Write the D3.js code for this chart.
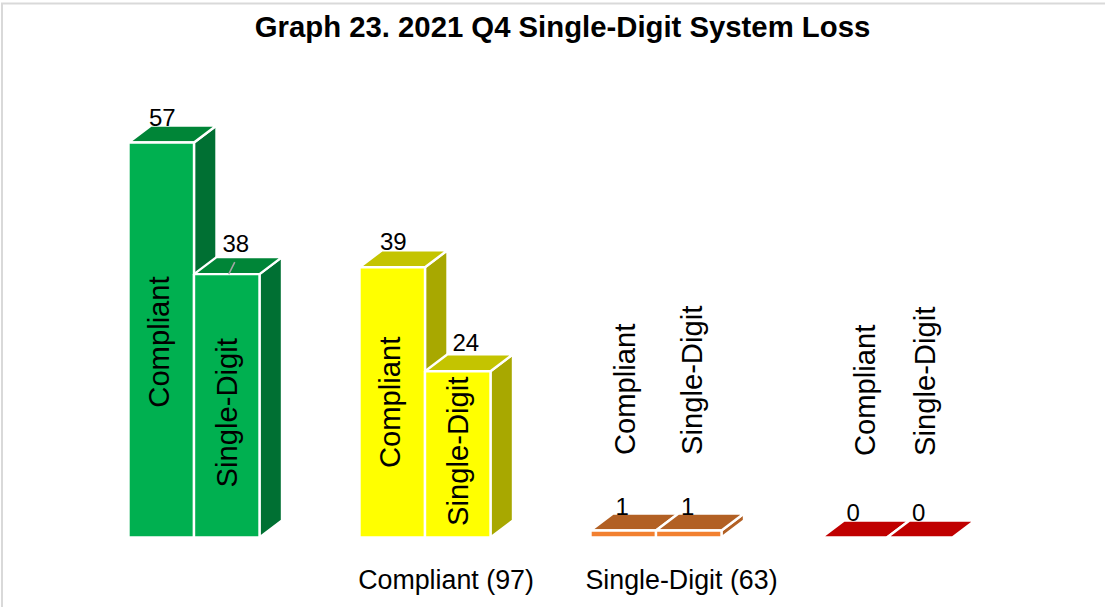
<!DOCTYPE html>
<html><head><meta charset="utf-8">
<script src="https://cdn.jsdelivr.net/npm/d3@7/dist/d3.min.js"></script>
<style>html,body{margin:0;padding:0;background:#fff}svg{display:block}text{font-family:"Liberation Sans",Arial,sans-serif;fill:#000}</style>
</head><body><svg id="c" width="1105" height="607"></svg>
<script>
const title = "Graph 23. 2021 Q4 Single-Digit System Loss";
const groups = ["A", "Compliant (97)", "Single-Digit (63)", "D"];
const groupLabels = ["", "Compliant (97)", "Single-Digit (63)", ""];
const seriesNames = ["Compliant", "Single-Digit"];
const compliant = [57, 39, 1, 0];
const singleDigit = [38, 24, 1, 0];
const frontColors = ["#00B050", "#FFFF00", "#F28030", "#C00000"];
const topColors = ["#008537", "#C4C400", "#B26024", "#C00000"];
const sideColors = ["#007033", "#A8A800", "#B26024", "#C00000"];

// layout tweaks for text placement, [group][series]
const valueDx = [[1, 9], [1, 8], [-1, -1], [-1, -1]];
const valueDy = [[-17, -22], [-17, -20], [-16, -16], [-17, -17]];
const nameDx = [[-2, 0], [-2, 0], [2, 3], [11, 5]];
const nameDy = [[2, 7], [0, -3], [1, 1], [2, 2]];
const groupLabelDx = [0, -1.5, 3, 0];

const svg = d3.select("#c");
const depthX = 22.5, depthY = 17;
const y = d3.scaleLinear().domain([0, 57]).range([537.5, 142.5]);
const x0 = d3.scaleBand().domain(groups).range([128.5, 952.5]).paddingInner(100 / 231);
const x1 = d3.scaleBand().domain(seriesNames).range([0, x0.bandwidth()]);

svg.append("path").attr("d", "M2,607V3.5H1105").attr("fill", "none").attr("stroke", "#d9d9d9").attr("stroke-width", 2);
svg.append("text").attr("x", 562.5).attr("y", 37).attr("text-anchor", "middle")
  .attr("font-size", 29.3).attr("font-weight", "bold").text(title);

const rows = groups.flatMap((g, i) => [
  { g, i, s: 0, name: seriesNames[0], v: compliant[i] },
  { g, i, s: 1, name: seriesNames[1], v: singleDigit[i] }
]);

const bars = svg.append("g").selectAll("g").data(rows).join("g")
  .attr("stroke", "#fff").attr("stroke-width", 2.4).attr("stroke-linejoin", "round");
const left = d => x0(d.g) + x1(d.name);
const right = d => left(d) + x1.bandwidth();
bars.filter(d => d.v > 0).append("path").attr("fill", d => sideColors[d.i])
  .attr("d", d => `M${right(d)},${y(d.v)}l${depthX},${-depthY}V${y(0) - depthY}L${right(d)},${y(0)}Z`);
bars.append("path").attr("fill", d => topColors[d.i])
  .attr("d", d => `M${left(d)},${y(d.v)}l${depthX},${-depthY}H${right(d) + depthX}L${right(d)},${y(d.v)}Z`);
bars.filter(d => d.v > 0).append("rect").attr("fill", d => frontColors[d.i])
  .attr("x", left).attr("y", d => y(d.v)).attr("width", x1.bandwidth()).attr("height", d => y(0) - y(d.v));

// leader line from the shifted 38 label
const lead = rows[1];
svg.append("line").attr("x1", left(lead) + x1.bandwidth() / 2 + 2).attr("y1", y(lead.v))
  .attr("x2", left(lead) + x1.bandwidth() / 2 + 8).attr("y2", y(lead.v) - 12)
  .attr("stroke", "#a6a6a6").attr("stroke-width", 1.5);

// value labels
svg.append("g").selectAll("text").data(rows).join("text")
  .attr("text-anchor", "middle").attr("font-size", 24)
  .attr("x", d => left(d) + x1.bandwidth() / 2 + valueDx[d.i][d.s])
  .attr("y", d => y(d.v) + valueDy[d.i][d.s])
  .text(d => d.v);

// rotated series labels: centred in tall bars, bottom-anchored above short ones
svg.append("g").selectAll("text").data(rows).join("text")
  .attr("font-size", 29.2).attr("dominant-baseline", "central")
  .attr("text-anchor", d => d.v > 5 ? "middle" : "start")
  .attr("transform", d => {
    const cx = left(d) + x1.bandwidth() / 2 + nameDx[d.i][d.s];
    const cy = (d.v > 5 ? (y(d.v) + y(0)) / 2 : 454) + nameDy[d.i][d.s];
    return `translate(${cx},${cy}) rotate(-90)`;
  })
  .text(d => d.name);

// group labels
svg.append("g").selectAll("text").data(groups).join("text")
  .attr("text-anchor", "middle").attr("font-size", 26.8)
  .attr("x", (d, i) => x0(d) + x0.bandwidth() / 2 + depthX + groupLabelDx[i])
  .attr("y", 589)
  .text((d, i) => groupLabels[i]);
</script></body></html>
